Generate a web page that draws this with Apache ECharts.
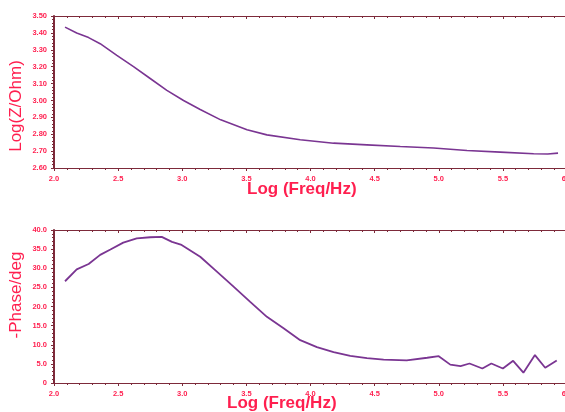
<!DOCTYPE html>
<html><head><meta charset="utf-8">
<script src="https://cdn.jsdelivr.net/npm/echarts@6/dist/echarts.min.js"></script>
<style>html,body{margin:0;padding:0;background:#fff}#c{width:565px;height:412px}</style>
</head><body><div id="c"></div>
<script>
const logFreqZ = [2.086,2.177,2.27,2.36,2.49,2.62,2.75,2.88,3.01,3.14,3.30,3.505,3.66,3.92,4.18,4.44,4.70,4.96,5.22,5.48,5.74,5.85,5.93];
const logZ = [3.434,3.399,3.372,3.336,3.267,3.20,3.13,3.06,3.00,2.946,2.885,2.826,2.796,2.767,2.747,2.737,2.727,2.718,2.704,2.694,2.684,2.683,2.688];
const logFreqP = [2.086,2.177,2.27,2.36,2.44,2.54,2.645,2.75,2.84,2.92,2.995,3.14,3.27,3.40,3.53,3.66,3.79,3.92,4.05,4.18,4.31,4.44,4.57,4.75,4.91,5.0,5.09,5.17,5.24,5.34,5.41,5.50,5.58,5.66,5.75,5.83,5.92];
const phase = [26.6,29.7,31.1,33.5,34.9,36.7,37.8,38.1,38.2,36.9,36.1,33.0,29.1,25.2,21.2,17.3,14.3,11.2,9.4,8.1,7.1,6.5,6.1,5.9,6.6,7.0,4.8,4.4,5.1,3.8,5.1,3.8,5.8,2.7,7.3,4.0,5.9];
const xTitle = 'Log (Freq/Hz)';
const yTitleTop = 'Log(Z/Ohm)';
const yTitleBottom = '-Phase/deg';

const red = '#ff1f4f';
const axisCol = '#7d2a3a';
const lineCol = '#7a3592';
const lblFont = {color: red, fontSize: 7.5, fontWeight: 'bold', fontFamily: 'Liberation Sans'};

function xAx(gi, pos) {
  const bottom = pos === 'bottom';
  return {
    type: 'value', gridIndex: gi, position: pos, min: 2, max: 6, interval: 0.5,
    axisLine: {show: true, onZero: false, lineStyle: {color: axisCol, width: 1}},
    axisTick: {show: true, inside: !bottom, length: 3, lineStyle: {color: axisCol}},
    minorTick: {show: true, splitNumber: 5, length: 2, lineStyle: {color: axisCol}},
    splitLine: {show: false},
    axisLabel: {show: bottom, margin: 7, ...lblFont, formatter: v => v.toFixed(1)}
  };
}
function yAx(gi, min, max, interval, fmt) {
  return {
    type: 'value', gridIndex: gi, min: min, max: max, interval: interval,
    axisLine: {show: true, lineStyle: {color: axisCol, width: 2}},
    axisTick: {show: true, length: 3, lineStyle: {color: axisCol}},
    minorTick: {show: true, splitNumber: 5, length: 2, lineStyle: {color: axisCol}},
    splitLine: {show: false},
    axisLabel: {margin: 7, ...lblFont, formatter: fmt}
  };
}

const chart = echarts.init(document.getElementById('c'), null, {renderer: 'canvas'});
chart.setOption({
  animation: false,
  backgroundColor: '#fff',
  grid: [
    {left: 54, top: 16, width: 513, height: 152, containLabel: false, outerBoundsMode: 'none'},
    {left: 54, top: 230, width: 513, height: 153, containLabel: false, outerBoundsMode: 'none'}
  ],
  xAxis: [xAx(0, 'bottom'), xAx(0, 'top'), xAx(1, 'bottom'), xAx(1, 'top')],
  yAxis: [
    yAx(0, 2.6, 3.5, 0.1, v => v.toFixed(2)),
    yAx(1, 0, 40, 5, v => v === 0 ? '0' : v.toFixed(1))
  ],
  series: [
    {type: 'line', xAxisIndex: 0, yAxisIndex: 0, data: logFreqZ.map((x, i) => [x, logZ[i]]),
     showSymbol: false, lineStyle: {color: lineCol, width: 1.6}},
    {type: 'line', xAxisIndex: 2, yAxisIndex: 1, data: logFreqP.map((x, i) => [x, phase[i]]),
     showSymbol: false, lineStyle: {color: lineCol, width: 1.8}}
  ],
  graphic: [
    {type: 'text', left: 247, top: 181, style: {text: xTitle, fill: red, font: 'bold 17px "Liberation Sans"'}},
    {type: 'text', left: 227, top: 395, style: {text: xTitle, fill: red, font: 'bold 17px "Liberation Sans"'}},
    {type: 'text', x: 16, y: 106, rotation: Math.PI / 2, style: {text: yTitleTop, fill: red, font: '17px "Liberation Sans"', align: 'center', verticalAlign: 'middle'}},
    {type: 'text', x: 16, y: 295, rotation: Math.PI / 2, style: {text: yTitleBottom, fill: red, font: '17px "Liberation Sans"', align: 'center', verticalAlign: 'middle'}}
  ]
});
</script></body></html>
